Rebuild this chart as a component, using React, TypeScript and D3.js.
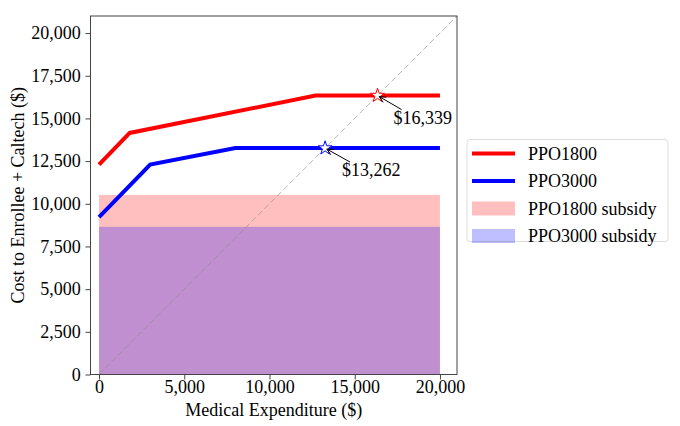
import { useEffect, useRef } from "react";
import * as d3 from "d3";

type Pt = [number, number];

const ppo1800: Pt[] = [[0, 12300], [1800, 14150], [12700, 16339], [20000, 16339]];
const ppo3000: Pt[] = [[0, 9220], [3000, 12300], [8000, 13262], [20000, 13262]];
const subsidy1800 = 10520;
const subsidy3000 = 8650;
const breakEven = [
  { value: 16339, label: "$16,339", color: "#ff0000", dx: 24, dy: 22 },
  { value: 13262, label: "$13,262", color: "#0000ff", dx: 25, dy: 22 },
];
const xTicks = [0, 5000, 10000, 15000, 20000];
const yTicks = [0, 2500, 5000, 7500, 10000, 12500, 15000, 17500, 20000];
const legendItems = [
  { label: "PPO1800", kind: "line", color: "#ff0000" },
  { label: "PPO3000", kind: "line", color: "#0000ff" },
  { label: "PPO1800 subsidy", kind: "patch", color: "rgba(255,0,0,0.25)" },
  { label: "PPO3000 subsidy", kind: "patch", color: "rgba(0,0,255,0.25)" },
];

const font = "'Liberation Serif', 'DejaVu Serif', serif";

function App() {
  const svgRef = useRef<SVGSVGElement | null>(null);

  useEffect(() => {
    const width = 680;
    const height = 426;
    const left = 90.5, right = 457, top = 16, bottom = 374.5;

    const svg = d3.select(svgRef.current).attr("width", width).attr("height", height);
    svg.selectAll("*").remove();

    const x = d3.scaleLinear().domain([-500, 21000]).range([left, right]);
    const y = d3.scaleLinear().domain([0, 21000]).range([bottom, top]);

    svg.append("defs").append("clipPath").attr("id", "plot-clip")
      .append("rect").attr("x", left).attr("y", top)
      .attr("width", right - left).attr("height", bottom - top);

    const plot = svg.append("g").attr("clip-path", "url(#plot-clip)");

    // subsidy fills
    plot.append("rect")
      .attr("x", x(0)).attr("width", x(20000) - x(0))
      .attr("y", y(subsidy1800)).attr("height", y(0) - y(subsidy1800))
      .attr("fill", "rgba(255,0,0,0.25)");
    plot.append("rect")
      .attr("x", x(0)).attr("width", x(20000) - x(0))
      .attr("y", y(subsidy3000)).attr("height", y(0) - y(subsidy3000))
      .attr("fill", "rgba(0,0,255,0.25)");

    // break-even diagonal
    plot.append("line")
      .attr("x1", x(0)).attr("y1", y(0))
      .attr("x2", x(21000)).attr("y2", y(21000))
      .attr("stroke", "#8a8a8a").attr("stroke-opacity", 0.6)
      .attr("stroke-width", 1).attr("stroke-dasharray", "6,3");

    const line = d3.line<Pt>().x(d => x(d[0])).y(d => y(d[1]));
    plot.append("path").attr("d", line(ppo1800)).attr("fill", "none")
      .attr("stroke", "#ff0000").attr("stroke-width", 4);
    plot.append("path").attr("d", line(ppo3000)).attr("fill", "none")
      .attr("stroke", "#0000ff").attr("stroke-width", 4);

    // stars + annotations
    const star = d3.symbol().type(d3.symbolStar).size(60);
    breakEven.forEach(b => {
      const sx = x(b.value), sy = y(b.value);
      const tx = sx + b.dx, ty = sy + b.dy;
      svg.append("path").attr("d", star())
        .attr("transform", `translate(${sx},${sy})`)
        .attr("fill", "white").attr("stroke", b.color).attr("stroke-width", 1);
      const ang = Math.atan2(sy - (ty - 8), sx - tx);
      const hx = sx - 2 * Math.cos(ang), hy = sy - 2 * Math.sin(ang);
      svg.append("line")
        .attr("x1", tx).attr("y1", ty - 8).attr("x2", hx).attr("y2", hy)
        .attr("stroke", "black").attr("stroke-width", 1);
      const a1 = ang + Math.PI - 0.45, a2 = ang + Math.PI + 0.45;
      svg.append("path")
        .attr("d", `M${hx + 7 * Math.cos(a1)},${hy + 7 * Math.sin(a1)}L${hx},${hy}L${hx + 7 * Math.cos(a2)},${hy + 7 * Math.sin(a2)}`)
        .attr("fill", "none").attr("stroke", "black").attr("stroke-width", 1);
      svg.append("text")
        .attr("x", tx - 8).attr("y", ty + 6)
        .attr("font-family", font).attr("font-size", 18)
        .text(b.label);
    });

    // frame
    svg.append("rect").attr("x", left).attr("y", top)
      .attr("width", right - left).attr("height", bottom - top)
      .attr("fill", "none").attr("stroke", "#444").attr("stroke-width", 1);

    // axes
    const xAxis = svg.append("g").attr("transform", `translate(0,${bottom})`)
      .call(d3.axisBottom(x).tickValues(xTicks).tickFormat(d3.format(",")).tickSize(5).tickSizeOuter(0));
    const yAxis = svg.append("g").attr("transform", `translate(${left},0)`)
      .call(d3.axisLeft(y).tickValues(yTicks).tickFormat(d3.format(",")).tickSize(5).tickSizeOuter(0));
    [xAxis, yAxis].forEach(ax => {
      ax.select(".domain").remove();
      ax.selectAll("line").attr("stroke", "#444");
      ax.selectAll("text").attr("font-family", font).attr("font-size", 18).attr("fill", "black");
    });
    xAxis.selectAll("text").attr("y", 6).attr("dy", "0.71em");
    yAxis.selectAll("text").attr("dx", "-0.1em");

    svg.append("text")
      .attr("x", (left + right) / 2).attr("y", 416)
      .attr("text-anchor", "middle").attr("font-family", font).attr("font-size", 18)
      .text("Medical Expenditure ($)");
    svg.append("text")
      .attr("transform", `translate(24,${(top + bottom) / 2}) rotate(-90)`)
      .attr("text-anchor", "middle").attr("font-family", font).attr("font-size", 18)
      .text("Cost to Enrollee + Caltech ($)");

    // legend
    const lg = svg.append("g").attr("transform", "translate(467,139.5)");
    lg.append("rect").attr("width", 201).attr("height", 102).attr("rx", 3)
      .attr("fill", "white").attr("stroke", "#ddd");
    const rows = lg.selectAll("g.item").data(legendItems).enter().append("g")
      .attr("class", "item")
      .attr("transform", (_, i) => `translate(0,${14 + i * 27.5})`);
    rows.filter(d => d.kind === "line").append("line")
      .attr("x1", 5).attr("x2", 48).attr("y1", 0).attr("y2", 0)
      .attr("stroke", d => d.color).attr("stroke-width", 4);
    rows.filter(d => d.kind === "patch").append("rect")
      .attr("x", 5).attr("width", 43).attr("y", -7).attr("height", 14)
      .attr("fill", d => d.color);
    rows.append("text").attr("x", 61).attr("y", 6)
      .attr("font-family", font).attr("font-size", 18)
      .text(d => d.label);
  }, []);

  return (
    <div style={{ position: "absolute", left: 0, top: 0 }}>
      <svg ref={svgRef} width={680} height={426}></svg>
    </div>
  );
}

export default App;
